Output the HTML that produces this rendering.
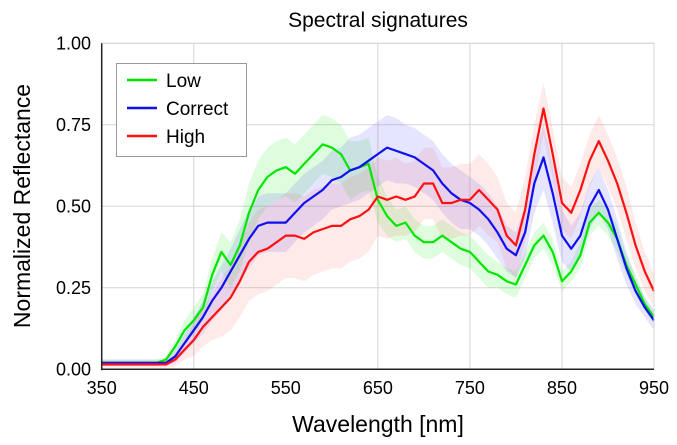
<!DOCTYPE html>
<html><head><meta charset="utf-8"><style>
body{margin:0;background:#fff;}
svg{display:block;font-family:"Liberation Sans",Arial,sans-serif;}
</style></head><body>
<svg id="chart" width="677" height="445"></svg>
<script>
const wavelengths=[350,360,370,380,390,400,410,420,430,440,450,460,470,480,490,500,510,520,530,540,550,560,570,580,590,600,610,620,630,640,650,660,670,680,690,700,710,720,730,740,750,760,770,780,790,800,810,820,830,840,850,860,870,880,890,900,910,920,930,940,950];
const lowMean=[0.02,0.02,0.02,0.02,0.02,0.02,0.02,0.03,0.07,0.12,0.15,0.19,0.29,0.36,0.32,0.38,0.48,0.55,0.59,0.61,0.62,0.60,0.63,0.66,0.69,0.68,0.66,0.61,0.62,0.63,0.52,0.47,0.44,0.45,0.41,0.39,0.39,0.41,0.39,0.37,0.36,0.33,0.30,0.29,0.27,0.26,0.32,0.38,0.41,0.36,0.27,0.30,0.35,0.45,0.48,0.45,0.40,0.32,0.26,0.20,0.16];
const correctMean=[0.02,0.02,0.02,0.02,0.02,0.02,0.02,0.02,0.04,0.08,0.12,0.16,0.21,0.25,0.30,0.35,0.40,0.44,0.45,0.45,0.45,0.48,0.51,0.53,0.55,0.58,0.59,0.61,0.62,0.64,0.66,0.68,0.67,0.66,0.65,0.63,0.61,0.57,0.54,0.52,0.51,0.49,0.46,0.42,0.37,0.35,0.42,0.57,0.65,0.54,0.41,0.37,0.41,0.50,0.55,0.49,0.40,0.31,0.24,0.19,0.15];
const highMean=[0.015,0.015,0.015,0.015,0.015,0.015,0.015,0.015,0.03,0.06,0.09,0.13,0.16,0.19,0.22,0.27,0.33,0.36,0.37,0.39,0.41,0.41,0.40,0.42,0.43,0.44,0.44,0.46,0.47,0.49,0.53,0.52,0.53,0.52,0.53,0.57,0.57,0.51,0.51,0.52,0.52,0.55,0.52,0.49,0.41,0.38,0.49,0.66,0.80,0.66,0.51,0.48,0.55,0.64,0.70,0.64,0.57,0.48,0.38,0.30,0.24];
const lowBand=[0.01,0.01,0.01,0.01,0.01,0.01,0.01,0.01,0.02,0.03,0.04,0.04,0.05,0.06,0.07,0.08,0.09,0.09,0.09,0.09,0.09,0.09,0.09,0.09,0.09,0.09,0.09,0.09,0.08,0.08,0.07,0.06,0.05,0.05,0.05,0.05,0.05,0.05,0.05,0.05,0.05,0.05,0.05,0.04,0.04,0.04,0.04,0.04,0.04,0.04,0.03,0.03,0.04,0.04,0.04,0.04,0.04,0.03,0.03,0.02,0.02];
const correctBand=[0.01,0.01,0.01,0.01,0.01,0.01,0.01,0.01,0.02,0.03,0.04,0.05,0.06,0.07,0.07,0.08,0.09,0.09,0.09,0.09,0.09,0.09,0.09,0.09,0.09,0.09,0.09,0.10,0.10,0.10,0.10,0.10,0.10,0.09,0.09,0.09,0.09,0.09,0.09,0.09,0.08,0.08,0.08,0.08,0.07,0.07,0.08,0.09,0.10,0.09,0.08,0.07,0.07,0.07,0.07,0.06,0.06,0.05,0.04,0.03,0.03];
const highBand=[0.01,0.01,0.01,0.01,0.01,0.01,0.01,0.01,0.02,0.03,0.05,0.06,0.07,0.09,0.10,0.11,0.12,0.13,0.13,0.13,0.13,0.13,0.13,0.13,0.13,0.13,0.13,0.13,0.13,0.13,0.12,0.12,0.12,0.11,0.11,0.11,0.11,0.11,0.11,0.11,0.11,0.11,0.11,0.10,0.10,0.10,0.10,0.09,0.08,0.08,0.08,0.08,0.08,0.08,0.08,0.08,0.08,0.08,0.07,0.06,0.05];
const xTicks=[350,450,550,650,750,850,950];
const yTicks=[0,0.25,0.5,0.75,1.0];
const yTickLabels=["0.00","0.25","0.50","0.75","1.00"];
const seriesNames=["Low","Correct","High"];

const NS="http://www.w3.org/2000/svg";
const svg=document.getElementById('chart');
const L=101.7,R=654,T=43.3,B=369.3;
const xs=v=>L+(v-350)/600*(R-L);
const ys=v=>B-v*(B-T);
function mk(tag,attrs,parent){const e=document.createElementNS(NS,tag);for(const k in attrs)e.setAttribute(k,attrs[k]);(parent||svg).appendChild(e);return e;}

// grid
[450,650,750,850,950].forEach(v=>{const g=mk('line',{x1:xs(v),x2:xs(v),y1:T,y2:B,stroke:'#d6d6d6','stroke-width':1});

});
yTicks.forEach(v=>{if(v===0)return;const g=mk('line',{x1:L,x2:R,y1:ys(v),y2:ys(v),stroke:'#d6d6d6','stroke-width':1});

});

const series=[
 {name:'low',mean:lowMean,band:lowBand,color:'#00e600',fill:'rgba(0,230,0,0.13)'},
 {name:'correct',mean:correctMean,band:correctBand,color:'#1010ee',fill:'rgba(40,40,255,0.12)'},
 {name:'high',mean:highMean,band:highBand,color:'#ff1010',fill:'rgba(255,60,60,0.11)'}
];
series.forEach(s=>{
 let d='';
 wavelengths.forEach((w,i)=>{d+=(i?'L':'M')+xs(w).toFixed(1)+','+ys(s.mean[i]+s.band[i]).toFixed(1);});
 for(let i=wavelengths.length-1;i>=0;i--)d+='L'+xs(wavelengths[i]).toFixed(1)+','+ys(Math.max(0,s.mean[i]-s.band[i])).toFixed(1);
 const p=mk('path',{d:d+'Z',fill:s.fill,stroke:'none'});
 
 
});
series.forEach(s=>{
 let d='';
 wavelengths.forEach((w,i)=>{d+=(i?'L':'M')+xs(w).toFixed(1)+','+ys(s.mean[i]).toFixed(1);});
 const p=mk('path',{d:d,fill:'none',stroke:s.color,'stroke-width':2.2,'stroke-linejoin':'round'});
 
 
});

// frame
mk('line',{x1:R,x2:R,y1:T,y2:B,stroke:'#d6d6d6'});
mk('line',{x1:L,x2:R,y1:T,y2:T,stroke:'#d6d6d6'});
const ya=mk('line',{x1:L,x2:L,y1:T,y2:B+1,stroke:'#222','stroke-width':1.5});


const xa=mk('line',{x1:L,x2:R,y1:B,y2:B,stroke:'#222','stroke-width':1.5});



xTicks.forEach(v=>{const t=mk('text',{x:xs(v),y:394,'text-anchor':'middle','font-size':18,fill:'#000'});t.textContent=v;

});
yTicks.forEach((v,i)=>{const t=mk('text',{x:91,y:ys(v)+6,'text-anchor':'end','font-size':18,fill:'#000'});t.textContent=yTickLabels[i];

});

const title=mk('text',{x:378,y:27,'text-anchor':'middle','font-size':21,fill:'#000'});title.textContent='Spectral signatures';


const xl=mk('text',{x:378,y:432,'text-anchor':'middle','font-size':23,fill:'#000'});xl.textContent='Wavelength [nm]';


const yl=mk('text',{x:0,y:0,'text-anchor':'middle','font-size':23,fill:'#000',transform:'translate(30,206) rotate(-90)'});yl.textContent='Normalized Reflectance';



// legend
const lg=mk('g',{});


mk('rect',{x:116.5,y:63.5,width:130,height:93,fill:'#fff',stroke:'#999','stroke-width':1},lg);
series.forEach((s,i)=>{
 const y=80+i*28;
 const ln=mk('line',{x1:127,x2:157,y1:y,y2:y,stroke:s.color,'stroke-width':2.5},lg);
 
 
 const t=mk('text',{x:166,y:y+7,'font-size':19,fill:'#000'},lg);t.textContent=seriesNames[i];
 
 
});
</script>
</body></html>
